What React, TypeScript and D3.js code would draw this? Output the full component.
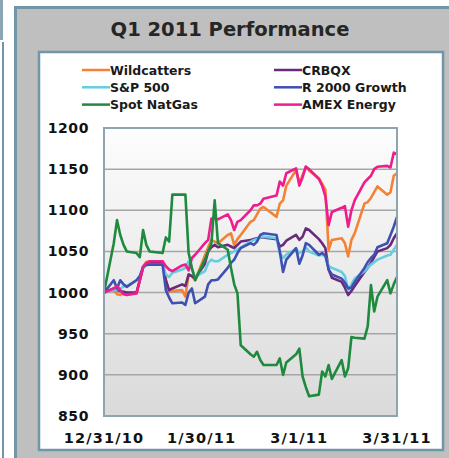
import * as d3 from 'd3';

// trading days, Q1 2011 (base 12/31/10 = 1000)
const dates = [
  '2010-12-31',
  '2011-01-03', '2011-01-04', '2011-01-05', '2011-01-06', '2011-01-07',
  '2011-01-10', '2011-01-11', '2011-01-12', '2011-01-13', '2011-01-14',
  '2011-01-18', '2011-01-19', '2011-01-20', '2011-01-21',
  '2011-01-24', '2011-01-25', '2011-01-26', '2011-01-27', '2011-01-28',
  '2011-01-31', '2011-02-01', '2011-02-02', '2011-02-03', '2011-02-04',
  '2011-02-07', '2011-02-08', '2011-02-09', '2011-02-10', '2011-02-11',
  '2011-02-14', '2011-02-15', '2011-02-16', '2011-02-17', '2011-02-18',
  '2011-02-22', '2011-02-23', '2011-02-24', '2011-02-25',
  '2011-02-28', '2011-03-01', '2011-03-02', '2011-03-03', '2011-03-04',
  '2011-03-07', '2011-03-08', '2011-03-09', '2011-03-10', '2011-03-11',
  '2011-03-14', '2011-03-15', '2011-03-16', '2011-03-17', '2011-03-18',
  '2011-03-21', '2011-03-22', '2011-03-23', '2011-03-24', '2011-03-25',
  '2011-03-28', '2011-03-29', '2011-03-30', '2011-03-31',
];

const wildcatters = [
  1000, 1003, 998, 997, 1000, 998, 1000, 1015, 1032, 1037, 1038,
  1038, 1015, 1001, 1002, 1003, 995, 1022, 1020, 1015,
  1045, 1055, 1064, 1062, 1060, 1070, 1072, 1058, 1065, 1070,
  1086, 1088, 1095, 1102, 1104, 1092, 1108, 1112, 1130,
  1149, 1133, 1143, 1153, 1148, 1139, 1132, 1125, 1052, 1064,
  1066, 1060, 1044, 1064, 1072, 1108, 1110, 1115, 1122, 1129,
  1119, 1122, 1142, 1145,
];

const sp500 = [
  1000, 1003, 1004, 1005, 1007, 1008, 1015, 1020, 1030, 1033, 1034,
  1034, 1022, 1019, 1024, 1028, 1030, 1038, 1028, 1019,
  1026, 1036, 1040, 1038, 1038, 1046, 1048, 1050, 1052, 1055,
  1062, 1064, 1065, 1067, 1068, 1066, 1048, 1042, 1046,
  1053, 1048, 1050, 1055, 1050, 1045, 1046, 1044, 1032, 1030,
  1025, 1020, 1003, 1010, 1017, 1026, 1030, 1034, 1037, 1040,
  1045, 1046, 1052, 1058,
];

const natGas = [
  1000, 1060, 1088, 1070, 1058, 1050, 1048, 1043, 1076, 1058, 1050,
  1048, 1067, 1062, 1119, 1119, 1119, 1048, 1030, 1015,
  1040, 1050, 1060, 1112, 1060, 1052, 1030, 1010, 999, 936,
  925, 922, 928, 918, 912, 912, 920, 900, 915,
  925, 932, 898, 885, 874, 876, 904, 898, 912, 895,
  918, 898, 908, 946, 945, 944, 959, 1009, 977, 995,
  1015, 999, 1010, 1019,
];

const crbqx = [
  1000, 1005, 1003, 1002, 1001, 1000, 1000, 1015, 1030, 1035, 1036,
  1036, 1015, 1003, 1005, 1010, 1008, 1022, 1020, 1017,
  1035, 1050, 1055, 1058, 1055, 1058, 1056, 1054, 1058, 1062,
  1064, 1065, 1066, 1067, 1067, 1065, 1056, 1058, 1063,
  1070, 1064, 1068, 1078, 1076, 1065, 1060, 1054, 1028, 1018,
  1013, 1006, 997, 1002, 1008, 1025, 1030, 1036, 1043, 1050,
  1054, 1058, 1066, 1072,
];

const r2000 = [
  1000, 1015, 1005, 1015, 1010, 1007, 1015, 1020, 1031, 1034, 1034,
  1034, 1003, 994, 987, 988, 985, 1000, 1005, 987,
  995, 1010, 1015, 1015, 1016, 1030, 1036, 1040, 1048, 1054,
  1060, 1058, 1062, 1070, 1072, 1070, 1050, 1025, 1040,
  1054, 1035, 1045, 1060, 1058, 1046, 1048, 1045, 1028, 1022,
  1017, 1012, 1005, 1006, 1013, 1030, 1037, 1042, 1046, 1055,
  1060, 1070, 1080, 1092,
];

const amexEnergy = [
  1000, 1005, 1008, 1003, 998, 997, 999, 1015, 1031, 1036, 1038,
  1038, 1032, 1028, 1026, 1033, 1034, 1027, 1042, 1046,
  1060, 1064, 1090, 1090, 1089, 1095, 1088, 1076, 1086, 1088,
  1100, 1106, 1106, 1108, 1114, 1118, 1135, 1130, 1145,
  1151, 1130, 1140, 1153, 1150, 1138, 1130, 1117, 1082, 1098,
  1103, 1105, 1080, 1100, 1112, 1134, 1138, 1142, 1150, 1153,
  1154, 1152, 1170, 1168,
];

const yTicks = [850, 900, 950, 1000, 1050, 1100, 1150, 1200];
const xTicks = ['2010-12-31', '2011-01-30', '2011-03-01', '2011-03-31'];

// legend reads down the left column, then the right one
const series = [
  {name: 'Wildcatters', values: wildcatters, color: '#f58233'},
  {name: 'S&P 500', values: sp500, color: '#66cce0'},
  {name: 'Spot NatGas', values: natGas, color: '#1f8a3e'},
  {name: 'CRBQX', values: crbqx, color: '#6a2a7c'},
  {name: 'R 2000 Growth', values: r2000, color: '#3f4fb2'},
  {name: 'AMEX Energy', values: amexEnergy, color: '#ee1c8c'},
];
// paint order (last on top)
const drawOrder = ['Wildcatters', 'CRBQX', 'S&P 500', 'R 2000 Growth', 'AMEX Energy', 'Spot NatGas'];

const W = 449;
const H = 458;
const plot = {left: 104, top: 128, right: 397, bottom: 416};
const font = '"DejaVu Sans", Verdana, sans-serif';
const frame = '#7096a8';

export default function App() {
  const parse = d3.timeParse('%Y-%m-%d');
  const fmt = d3.timeFormat('%-m/%-d/%y');
  const x = d3.scaleTime()
    .domain([parse('2010-12-31')!, parse('2011-03-31')!])
    .range([plot.left, plot.right]);
  const y = d3.scaleLinear()
    .domain([850, 1200])
    .range([plot.bottom, plot.top]);
  const xs = dates.map(d => parse(d)!);
  const line = d3.line<number>()
    .x((_, i) => x(xs[i]))
    .y(v => y(v));

  return (
    <svg width={W} height={H} style={{position: 'absolute', left: 0, top: 0}} fontFamily={font}>
      <defs>
        <linearGradient id="plotbg" x1="0" y1="0" x2="0" y2="1">
          <stop offset="0" stopColor="#fdfdfd" />
          <stop offset="1" stopColor="#dadada" />
        </linearGradient>
      </defs>
      <rect x={0} y={0} width={W} height={H} fill="#ffffff" />
      {/* neighbouring panel edge */}
      <rect x={0} y={0} width={3} height={40} fill="#8aa6b4" />
      <rect x={2} y={42} width={2} height={H - 42} fill={frame} />

      {/* outer grey panel */}
      <rect x={15.5} y={7.5} width={W - 14} height={H} fill="#bfbfbf" stroke={frame} strokeWidth={3} />
      <text x={230} y={36} textAnchor="middle" fontSize={19.5} fontWeight="bold" fill="#262626">
        Q1 2011 Performance
      </text>

      {/* white card */}
      <rect x={39} y={52} width={404} height={398} fill="#ffffff" stroke={frame} strokeWidth={2.5} />

      {/* legend */}
      {series.map((s, i) => {
        const col = i < 3 ? 0 : 1;
        const row = i % 3;
        const lx = col === 0 ? 82 : 274;
        const ly = 70 + row * 17.3;
        return (
          <g key={s.name}>
            <line x1={lx} x2={lx + 28} y1={ly} y2={ly} stroke={s.color} strokeWidth={2.5} />
            <text x={lx + 28} y={ly + 4.5} fontSize={12.5} fontWeight="bold" fill="#1a1a1a">
              {s.name}
            </text>
          </g>
        );
      })}

      {/* plot area */}
      <rect x={plot.left} y={plot.top} width={plot.right - plot.left} height={plot.bottom - plot.top}
            fill="url(#plotbg)" />
      {yTicks.map(t => (
        <line key={t} x1={plot.left} x2={plot.right} y1={y(t)} y2={y(t)} stroke="#a6a6a6" strokeWidth={1.5} />
      ))}
      {yTicks.map(t => (
        <text key={t} x={89} y={y(t) + 5} textAnchor="end" fontSize={14} fontWeight="bold"
              letterSpacing={0.6} fill="#111">
          {t}
        </text>
      ))}
      {xTicks.map(t => (
        <text key={t} x={x(parse(t)!)} y={443} textAnchor="middle" fontSize={14.5} fontWeight="bold"
              letterSpacing={1.2} fill="#111">
          {fmt(parse(t)!)}
        </text>
      ))}

      {drawOrder.map(n => {
        const s = series.find(e => e.name === n)!;
        return (
          <path key={n} d={line(s.values) || ''} fill="none" stroke={s.color} strokeWidth={2.6}
                strokeLinejoin="round" />
        );
      })}
      <rect x={plot.left} y={plot.top} width={plot.right - plot.left} height={plot.bottom - plot.top}
            fill="none" stroke="#8ea4ae" strokeWidth={2} />
    </svg>
  );
}
